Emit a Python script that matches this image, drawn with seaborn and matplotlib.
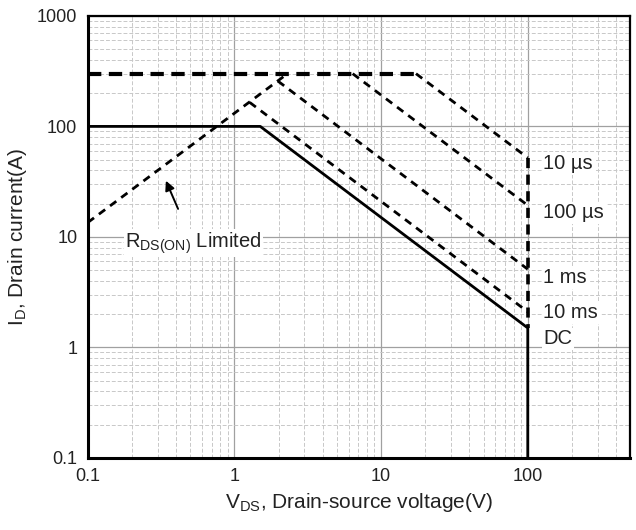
import matplotlib
matplotlib.use("Agg")
import matplotlib.pyplot as plt
import seaborn as sns
import pandas as pd
from matplotlib.ticker import LogLocator, FixedLocator, NullFormatter

# datos (V en volts, I en amperes)
dc_v = [0.1, 1.5, 100, 100]
dc_i = [100, 100, 1.5, 0.1]
rds_v = [0.1, 2.3]
rds_i = [13.5, 300]
lim_v = [0.1, 17.3]
lim_i = [300, 300]
us10_v = [17.3, 100]
us10_i = [300, 52]
vlim_v = [100, 100]
vlim_i = [52, 1.5]
us100_v = [6.4, 100]
us100_i = [300, 19.3]
ms1_v = [1.98, 100]
ms1_i = [257, 5.1]
ms10_v = [1.27, 100]
ms10_i = [165, 2.1]

etiquetas = ["10 µs", "100 µs", "1 ms", "10 ms", "DC"]
etiq_i = [46, 16.5, 4.25, 2.05, 1.2]

sns.set_style("white")
plt.rcParams['font.family'] = ['Liberation Sans', 'DejaVu Sans']

fig = plt.figure(figsize=(6.36, 5.30), dpi=100)
ax = fig.add_axes([0.138, 0.136, 0.853, 0.834])


def curva(v, i, ls, lw, dashes=None):
    df = pd.DataFrame({'v': v, 'i': i})
    sns.lineplot(data=df, x='v', y='i', sort=False, estimator=None, color='black',
                 linewidth=lw, linestyle=ls, ax=ax, zorder=5)
    if dashes is not None:
        ax.lines[-1].set_dashes(dashes)


curva(dc_v, dc_i, '-', 2.0)
curva(lim_v, lim_i, '--', 3.0, (3.2, 1.8))
curva(rds_v, rds_i, '--', 2.0, (2.8, 2.2))
curva(us10_v, us10_i, '--', 2.0, (2.8, 2.2))
curva(vlim_v, vlim_i, '--', 2.6, (2.8, 1.8))
curva(us100_v, us100_i, '--', 2.0, (2.8, 2.2))
curva(ms1_v, ms1_i, '--', 2.0, (2.8, 2.2))
curva(ms10_v, ms10_i, '--', 2.0, (2.8, 2.2))

ax.set_xscale('log')
ax.set_yscale('log')
ax.set_xlim(0.1, 500)
ax.set_ylim(0.1, 1000)

ax.xaxis.set_major_locator(FixedLocator([0.1, 1, 10, 100]))
ax.set_xticklabels(['0.1', '1', '10', '100'])
ax.yaxis.set_major_locator(FixedLocator([0.1, 1, 10, 100, 1000]))
ax.set_yticklabels(['0.1', '1', '10', '100', '1000'])
ax.xaxis.set_minor_locator(LogLocator(base=10, subs=range(2, 10), numticks=20))
ax.yaxis.set_minor_locator(LogLocator(base=10, subs=range(2, 10), numticks=20))
ax.xaxis.set_minor_formatter(NullFormatter())
ax.yaxis.set_minor_formatter(NullFormatter())

ax.grid(True, which='major', color='#a0a0a0', linewidth=0.9, linestyle='-')
ax.grid(True, which='minor', color='#c8c8c8', linewidth=0.7, linestyle=(0, (4, 2)))
ax.set_axisbelow(True)

for s in ax.spines.values():
    s.set_color('black')
    s.set_linewidth(1.6)
ax.spines['left'].set_linewidth(2.2)
ax.spines['bottom'].set_linewidth(2.2)

ax.tick_params(which='major', direction='inout', length=8, width=2, labelsize=13,
               colors='black', labelcolor='#222222')
ax.tick_params(which='minor', direction='out', length=4, width=1.5)
ax.tick_params(top=False, right=False, which='both')

ax.set_xlabel('V$_{\\mathregular{DS}}$, Drain-source voltage(V)', fontsize=15, color='#222222')
ax.set_ylabel('I$_{\\mathregular{D}}$, Drain current(A)', fontsize=15, color='#222222', labelpad=6)

for t, y in zip(etiquetas, etiq_i):
    ax.text(128, y, t, fontsize=14.5, va='center', ha='left', color='#222222',
            bbox=dict(facecolor='white', edgecolor='none', pad=1), zorder=6)

ax.text(0.18, 8.8, 'R$_{\\mathregular{DS(ON)}}$ Limited', fontsize=14.5, va='center', ha='left',
        color='#222222', bbox=dict(facecolor='white', edgecolor='none', pad=1), zorder=6)
ax.annotate('', xy=(0.335, 34), xytext=(0.42, 17),
            arrowprops=dict(arrowstyle='-|>', color='black', lw=1.4, mutation_scale=14), zorder=6)

fig.savefig('out.png', dpi=100)
